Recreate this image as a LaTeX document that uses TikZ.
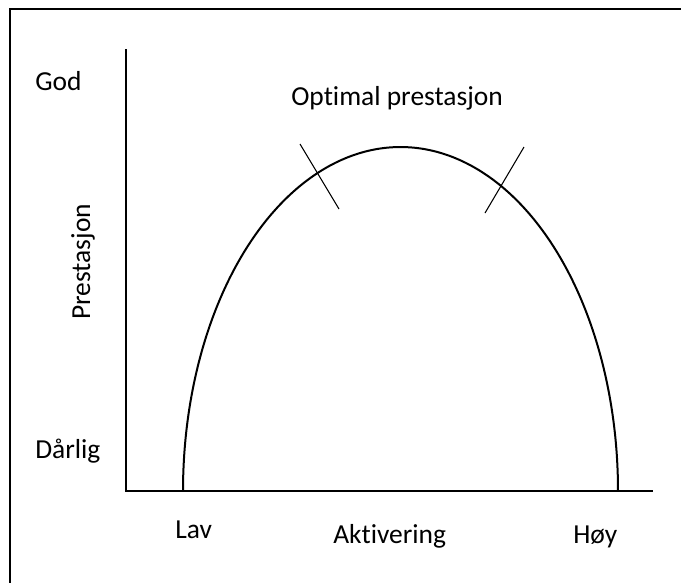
\documentclass[tikz,border=0pt]{standalone}
\usepackage{fontspec}
\setmainfont{Carlito}[Ligatures={NoCommon}]
\begin{document}
\begin{tikzpicture}[x=0.75pt,y=-0.75pt,
  lbl/.style={inner sep=0pt,anchor=base west,font=\fontsize{20.6pt}{24pt}\selectfont},
  axis/.style={line width=1.5pt},
  framel/.style={line width=1.5pt},
  tickl/.style={line width=0.8pt}]
\useasboundingbox (0,0) rectangle (681,583);
% frame (only top and left visible)
\coordinate (ftl) at (10,9);
\coordinate (ftr) at (681,9);
\coordinate (fbl) at (10,583);
\draw[framel] (ftr) -- (ftl) -- (fbl);
% axes
\coordinate (ytop) at (126,49);
\coordinate (orig) at (126,491);
\coordinate (xend) at (653,491);
\draw[axis] (ytop) -- (orig) -- (xend);
% curve
\draw[line width=1.5pt] plot[domain=180:360,samples=120,smooth] ({400.5+217.5*cos(\x)},{491+344*sin(\x)});
% tick marks
\coordinate (t1a) at (300,144);
\coordinate (t1b) at (339,209);
\coordinate (t2a) at (524,147);
\coordinate (t2b) at (485,213);
\draw[tickl] (t1a) -- (t1b);
\draw[tickl] (t2a) -- (t2b);
% labels
\node[lbl] (god) at (35,90) {God};
\node[lbl] (opt) at (291,105) {Optimal prestasjon};
\node[lbl] (dar) at (35,458) {Dårlig};
\node[lbl] (lav) at (175,538) {Lav};
\node[lbl] (akt) at (333,543) {Aktivering};
\node[lbl] (hoy) at (573,543) {Høy};
\node[lbl,rotate=90] (pre) at (90,320) {Prestasjon};
\end{tikzpicture}
\end{document}
